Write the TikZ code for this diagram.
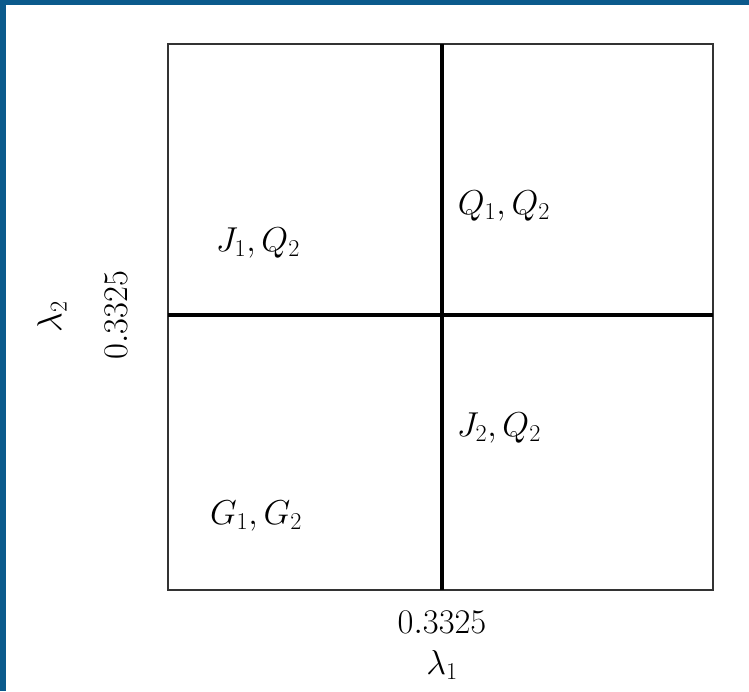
\RequirePackage{fix-cm}
\documentclass[tikz,border=0pt]{standalone}
\usepackage{amsmath}
\usepackage{tikz}
\usetikzlibrary{positioning}
\definecolor{frameblue}{HTML}{0B5A8C}

\begin{document}
\begin{tikzpicture}[x=0.03cm,y=0.03cm,
   lab/.style={inner sep=0pt,font=\fontsize{29.5}{34}\selectfont},
   box/.style={draw=black!80,line width=1.4pt},
   cut/.style={draw=black,line width=2.8pt}]
  \useasboundingbox (0,0) rectangle (749,691);
  \fill[frameblue] (0,686) rectangle (749,691);
  \fill[frameblue] (0,0) rectangle (6,691);
  % region corners and thresholds
  \coordinate (sw) at (168,101);
  \coordinate (ne) at (713,647);
  \coordinate (xb) at (442,101);
  \coordinate (xt) at (442,647);
  \coordinate (yl) at (168,376);
  \coordinate (yr) at (713,376);
  \draw[box] (sw) rectangle (ne);
  \draw[cut] (xb) -- (xt);
  \draw[cut] (yl) -- (yr);
  \node[lab] (jq) at (258,448) {$J_1,Q_2$};
  \node[lab] (qq) at (504,485) {$Q_1,Q_2$};
  \node[lab] (jj) at (499,263) {$J_2,Q_2$};
  \node[lab] (gg) at (256,175) {$G_1,G_2$};
  \node[lab] (xv) at (442,69) {$0.3325$};
  \node[lab] (xl) at (442,26) {$\lambda_1$};
  \node[lab,rotate=90] (yv) at (116,376) {$0.3325$};
  \node[lab,rotate=90] (yl2) at (52,374) {$\lambda_2$};
\end{tikzpicture}
\end{document}
